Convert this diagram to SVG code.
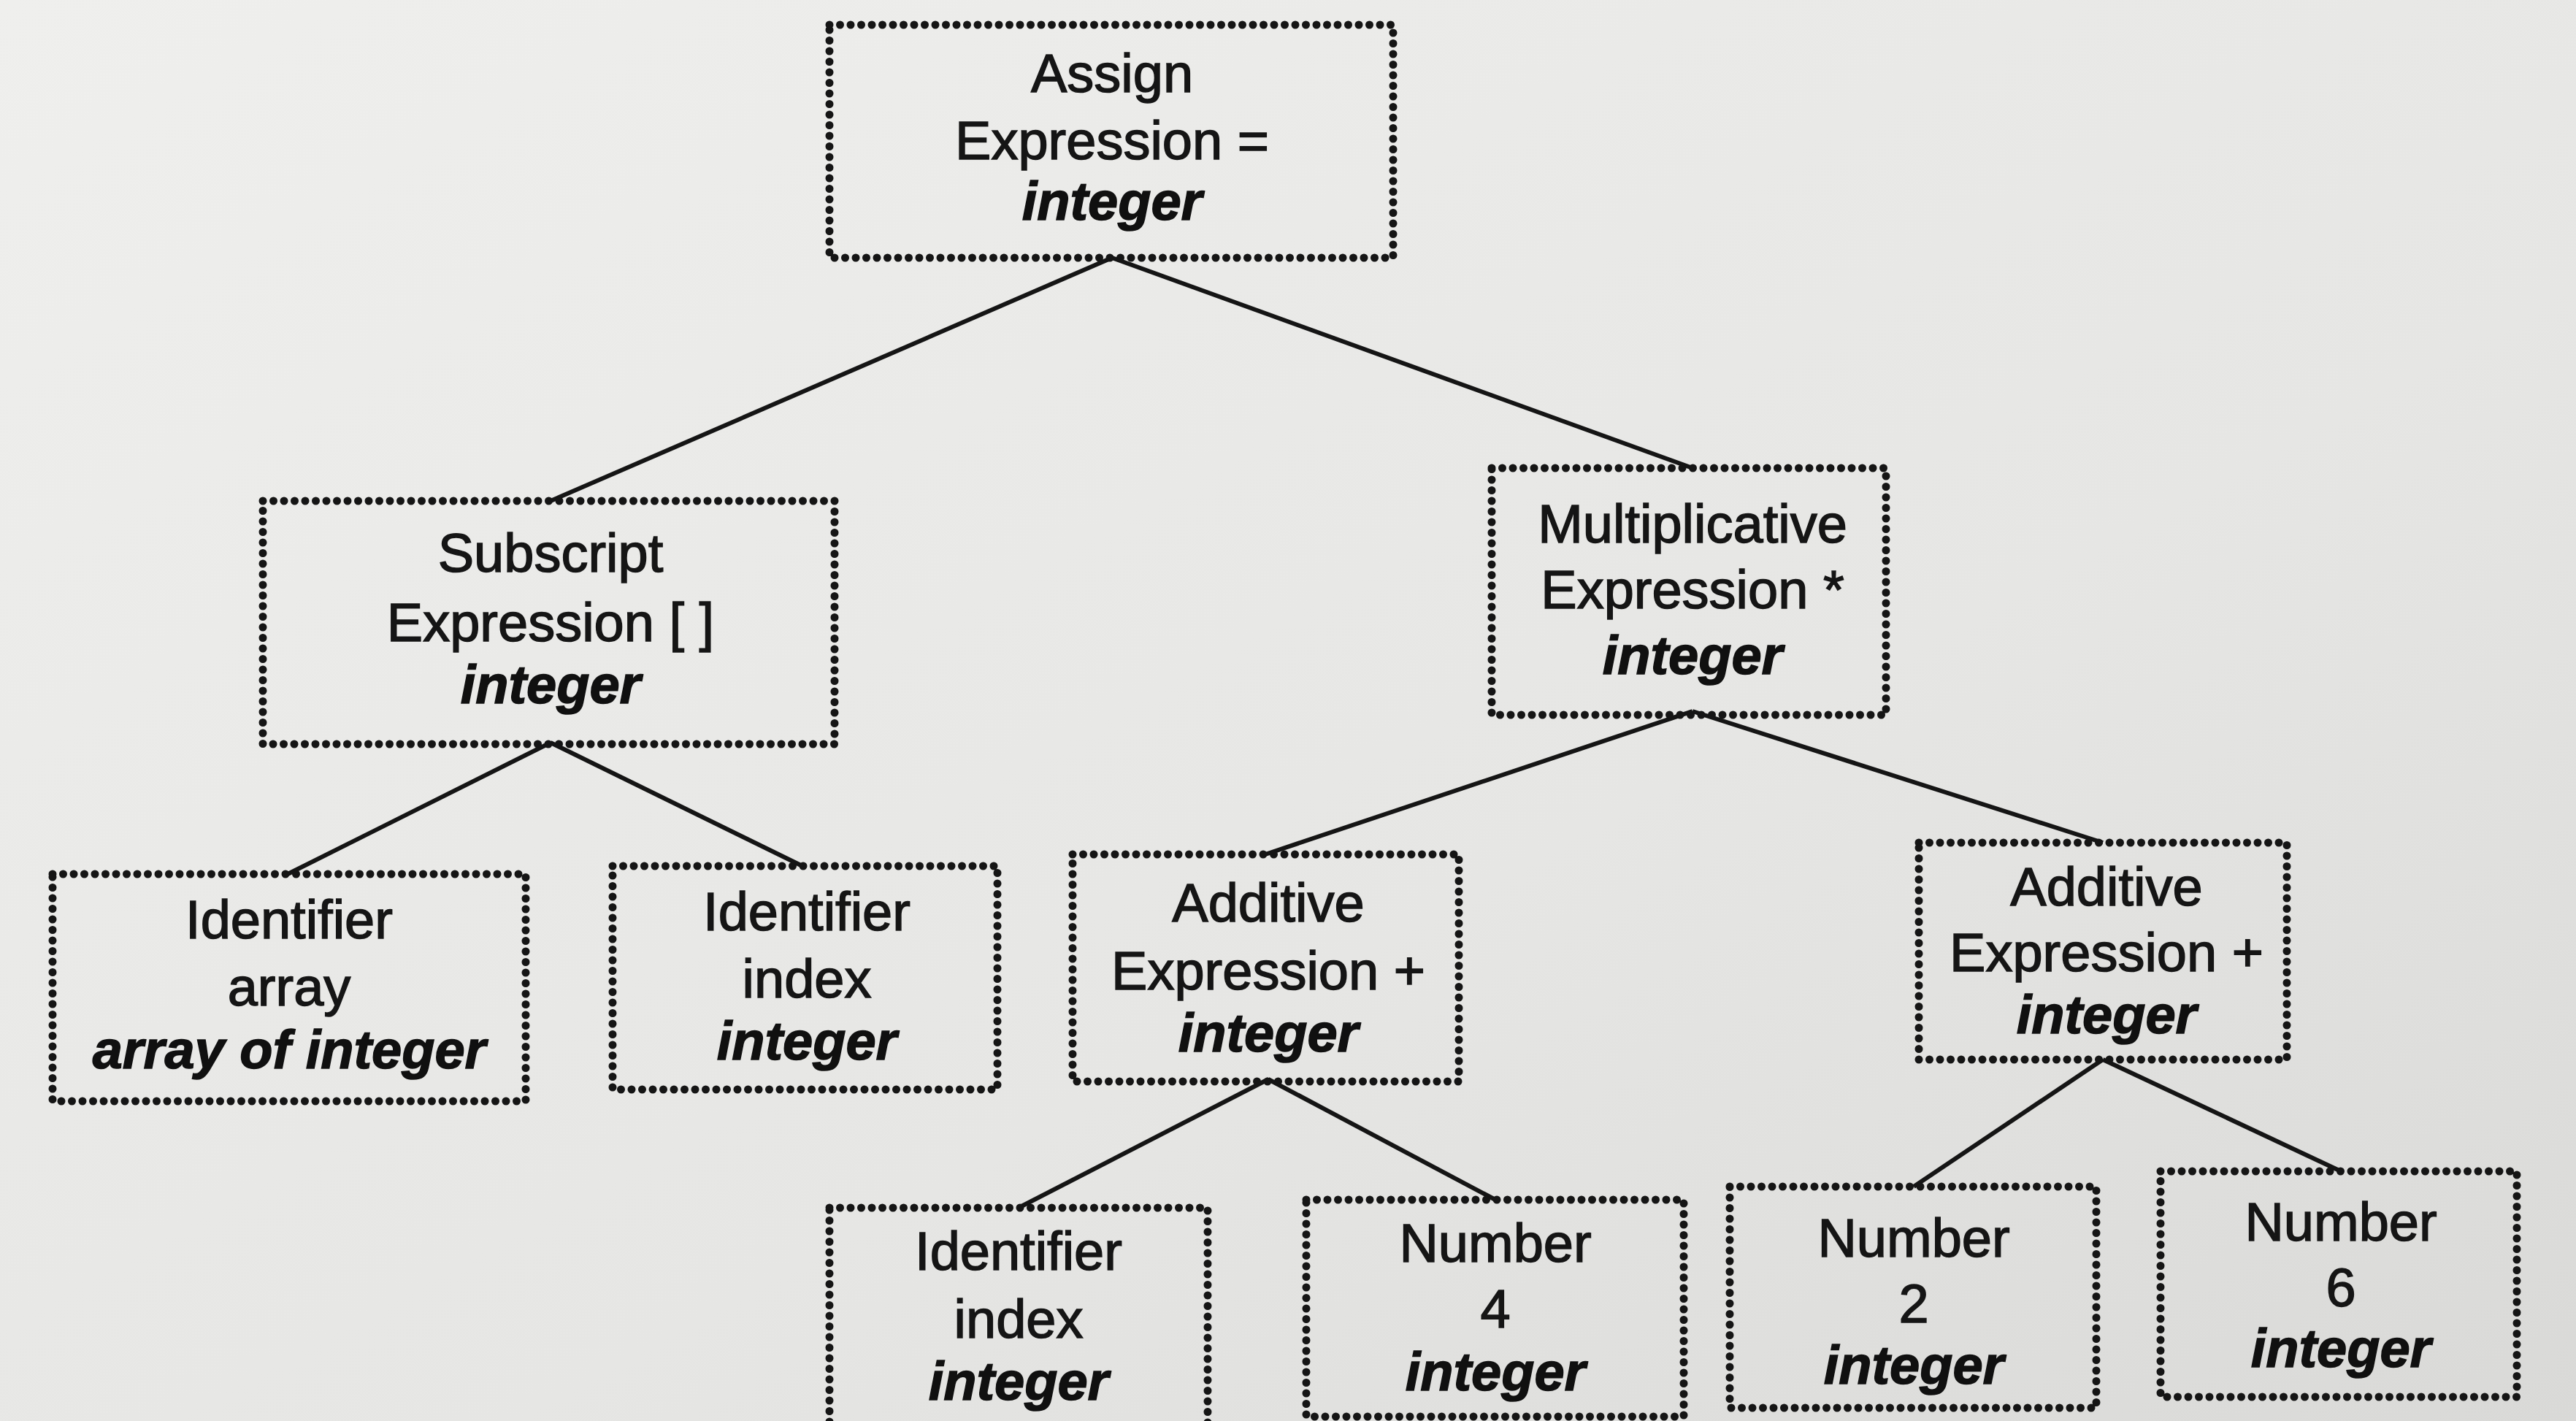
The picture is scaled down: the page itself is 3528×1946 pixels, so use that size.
<svg xmlns="http://www.w3.org/2000/svg" width="3528" height="1946" viewBox="0 0 3528 1946">
<defs>
<linearGradient id="bg" x1="0" y1="0" x2="1" y2="1">
<stop offset="0" stop-color="#efefed"/>
<stop offset="0.6" stop-color="#e6e6e4"/>
<stop offset="1" stop-color="#d9d9d7"/>
</linearGradient>
<style>
.box{fill:none;stroke:#151515;stroke-width:11;stroke-dasharray:0 14.5;stroke-linecap:round}
.t{font-family:"Liberation Sans",Arial,sans-serif;font-size:74px;fill:#151515;stroke:#151515;stroke-width:1.5;text-anchor:middle}
.ty{font-family:"Liberation Sans",Arial,sans-serif;font-size:74px;font-weight:bold;font-style:italic;fill:#101010;stroke:#101010;stroke-width:1.5;text-anchor:middle}
.edge{stroke:#151515;stroke-width:6;fill:none}
</style>
</defs>
<rect x="0" y="0" width="3528" height="1946" fill="url(#bg)"/>
<g id="connectors">
<line class="edge" x1="1523" y1="353" x2="754" y2="686"/>
<line class="edge" x1="1523" y1="353" x2="2318" y2="641"/>
<line class="edge" x1="754" y1="1017" x2="394" y2="1197"/>
<line class="edge" x1="754" y1="1017" x2="1103" y2="1188"/>
<line class="edge" x1="2318" y1="974" x2="1733" y2="1170"/>
<line class="edge" x1="2318" y1="974" x2="2880" y2="1154"/>
<line class="edge" x1="1737" y1="1478" x2="1395" y2="1654"/>
<line class="edge" x1="1737" y1="1478" x2="2048" y2="1643"/>
<line class="edge" x1="2880" y1="1451" x2="2621" y2="1625"/>
<line class="edge" x1="2880" y1="1451" x2="3206" y2="1604"/>
</g>
<g id="assign">
<rect class="box" x="1136" y="34" width="772" height="319"/>
<text class="t" x="1523" y="126">Assign</text>
<text class="t" x="1523" y="218">Expression =</text>
<text class="ty" x="1523" y="301">integer</text>
</g>
<g id="subscript">
<rect class="box" x="360" y="686" width="783" height="333"/>
<text class="t" x="754" y="783">Subscript</text>
<text class="t" x="754" y="878">Expression [ ]</text>
<text class="ty" x="754" y="963">integer</text>
</g>
<g id="multiplicative">
<rect class="box" x="2043" y="641" width="540" height="338"/>
<text class="t" x="2318" y="743">Multiplicative</text>
<text class="t" x="2318" y="833">Expression *</text>
<text class="ty" x="2318" y="923">integer</text>
</g>
<g id="identifier-array">
<rect class="box" x="72" y="1197" width="648" height="311"/>
<text class="t" x="396" y="1285">Identifier</text>
<text class="t" x="396" y="1377">array</text>
<text class="ty" x="396" y="1463">array of integer</text>
</g>
<g id="identifier-index">
<rect class="box" x="839" y="1186" width="527" height="306"/>
<text class="t" x="1105" y="1274">Identifier</text>
<text class="t" x="1105" y="1366">index</text>
<text class="ty" x="1105" y="1451">integer</text>
</g>
<g id="additive-left">
<rect class="box" x="1469" y="1170" width="529" height="311"/>
<text class="t" x="1737" y="1262">Additive</text>
<text class="t" x="1737" y="1355">Expression +</text>
<text class="ty" x="1737" y="1440">integer</text>
</g>
<g id="additive-right">
<rect class="box" x="2628" y="1154" width="504" height="297"/>
<text class="t" x="2885" y="1240">Additive</text>
<text class="t" x="2885" y="1330">Expression +</text>
<text class="ty" x="2885" y="1415">integer</text>
</g>
<g id="identifier-index-2">
<rect class="box" x="1136" y="1654" width="518" height="310"/>
<text class="t" x="1395" y="1739">Identifier</text>
<text class="t" x="1395" y="1832">index</text>
<text class="ty" x="1395" y="1917">integer</text>
</g>
<g id="number-4">
<rect class="box" x="1789" y="1643" width="517" height="297"/>
<text class="t" x="2048" y="1728">Number</text>
<text class="t" x="2048" y="1818">4</text>
<text class="ty" x="2048" y="1904">integer</text>
</g>
<g id="number-2">
<rect class="box" x="2369" y="1625" width="502" height="303"/>
<text class="t" x="2621" y="1721">Number</text>
<text class="t" x="2621" y="1811">2</text>
<text class="ty" x="2621" y="1895">integer</text>
</g>
<g id="number-6">
<rect class="box" x="2959" y="1604" width="488" height="309"/>
<text class="t" x="3206" y="1699">Number</text>
<text class="t" x="3206" y="1789">6</text>
<text class="ty" x="3206" y="1872">integer</text>
</g>
</svg>
